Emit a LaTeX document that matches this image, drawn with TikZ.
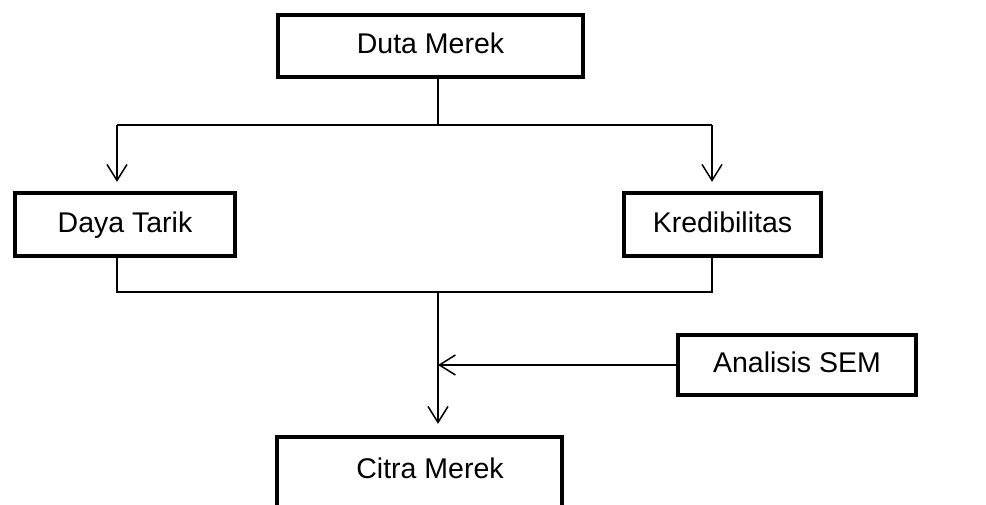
\documentclass[tikz,border=0pt]{standalone}
\usepackage{fontspec}
\setmainfont{Liberation Sans}
\usetikzlibrary{arrows.meta}
\begin{document}
\begin{tikzpicture}[x=1pt,y=-1pt,
  lbl/.style={font=\fontsize{28.5}{34}\selectfont, text height=15.5pt, text depth=0pt},
  box/.style={draw, line width=4.3pt, rectangle, inner sep=0pt, lbl},
  conn/.style={line width=1.5pt},
  arr/.style={conn, -{Straight Barb[length=16pt,width=20pt,line width=1.5pt]}}]
\useasboundingbox (0,0) rectangle (986,504);
\clip (0,0) rectangle (986,504);
\fill[white] (0,0) rectangle (986,504);
\node[box, minimum width=305pt, minimum height=62pt] (duta) at (430.5,46) {Duta Merek};
\node[box, minimum width=220pt, minimum height=63pt] (daya) at (125,224.5) {Daya Tarik};
\node[box, minimum width=197pt, minimum height=63pt] (kred) at (722.5,224.5) {Kredibilitas};
\node[box, minimum width=238pt, minimum height=60pt] (sem) at (797,365) {Analisis SEM};
\node[box, minimum width=285pt, minimum height=80pt] (citra) at (419.5,477) {};
\node[lbl, inner sep=0pt] (citratxt) at (430,470.5) {Citra Merek};
% connector x positions
\coordinate (jx) at (438,125);
\coordinate (lx) at (117,125);
\coordinate (rx) at (712,125);
\coordinate (bj) at (438,292);
\coordinate (bl) at (117,292);
\coordinate (br) at (712,292);
% top distribution
\draw[conn] (duta.south -| jx) -- (jx);
\draw[conn] (lx) -- (rx);
\draw[arr] (lx) -- ([yshift=9pt]daya.north -| lx);
\draw[arr] (rx) -- ([yshift=9pt]kred.north -| rx);
% bottom collection
\draw[conn] (daya.south -| bl) -- (bl) -- (br) -- (kred.south -| br);
\draw[arr] (bj) -- ([yshift=11pt]citra.north -| bj);
\draw[arr] (sem.west) -- (sem.west -| bj);
\end{tikzpicture}
\end{document}
